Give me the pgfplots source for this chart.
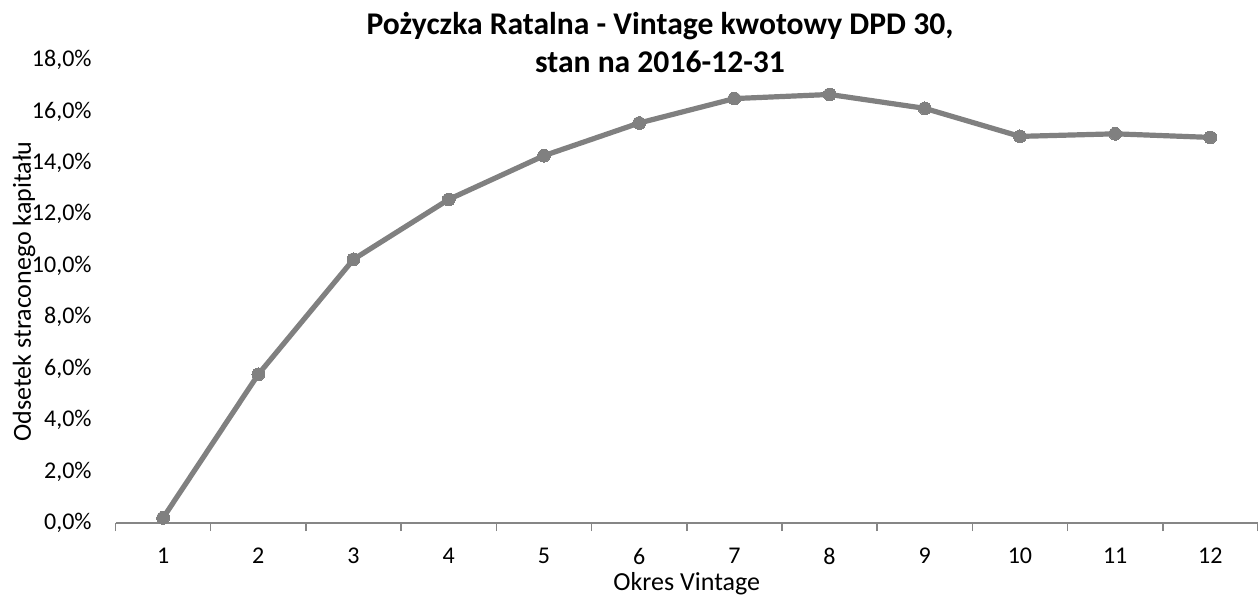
\documentclass[border=0pt]{standalone}
\usepackage{fontspec}
\setmainfont{Carlito}
\usepackage{pgfplots}
\pgfplotsset{compat=1.18}
\definecolor{linegray}{RGB}{128,128,128}
\definecolor{axisgray}{RGB}{134,134,134}

\begin{document}
\begin{tikzpicture}
  % reference is 1258x595 px, here 1 px = 0.5bp, axis origin at px (115.5,523)
  \path[use as bounding box] (-57.75bp,-36bp) rectangle (571.25bp,261.5bp);
  \begin{axis}[
    at={(0,0)}, anchor=south west,
    scale only axis,
    width=571.25bp, height=231.5bp,
    xmin=0.5, xmax=12.5,
    ymin=0, ymax=18,
    clip=false,
    axis lines*=left,
    x axis line style={axisgray, line width=0.75bp},
    y axis line style={draw=none},
    xtick={1,...,12},
    major x tick style={draw=none},
    major tick length=0pt,
    minor xtick={0.5,1.5,...,12.5},
    minor x tick style={axisgray, line width=0.75bp},
    minor tick length=4bp,
    tick align=outside,
    ytick={0,2,...,18},
    ytick style={draw=none},
    /pgf/number format/assume math mode=true,
    tick label style={font=\fontsize{12bp}{14.4bp}\selectfont, inner sep=0pt},
    xticklabel style={anchor=north, yshift=-12.5bp},
    yticklabel style={anchor=east, xshift=-11.75bp,
      /pgf/number format/.cd, fixed, fixed zerofill, precision=1, use comma},
    yticklabel={\pgfmathprintnumber{\tick}\%},
    xlabel={Okres Vintage},
    ylabel={Odsetek straconego kapitału},
    every axis x label/.style={at={(axis description cs:0.5,0)}, anchor=base,
      yshift=-33.5bp, inner sep=0pt, font=\fontsize{13bp}{15.6bp}\selectfont},
    every axis y label/.style={at={(axis description cs:-0.0801,0.5)}, rotate=90,
      anchor=center, inner sep=0pt, font=\fontsize{13bp}{15.6bp}\selectfont},
    title={Pożyczka Ratalna - Vintage kwotowy DPD 30,\\stan na 2016-12-31},
    every axis title/.style={at={(axis description cs:0.4766,1)}, anchor=base,
      yshift=-6.5bp, align=center, inner sep=0pt,
      font=\fontsize{15.8bp}{19bp}\selectfont\bfseries},
  ]
    \addplot[color=linegray, line width=2.6bp, mark=*, mark size=3.2bp,
      mark options={fill=linegray, draw=linegray, line width=0pt}]
      coordinates {
        (1,0.20) (2,5.78) (3,10.25) (4,12.58) (5,14.28) (6,15.55)
        (7,16.50) (8,16.66) (9,16.12) (10,15.03) (11,15.13) (12,14.99)
      };
  \end{axis}
\end{tikzpicture}
\end{document}
